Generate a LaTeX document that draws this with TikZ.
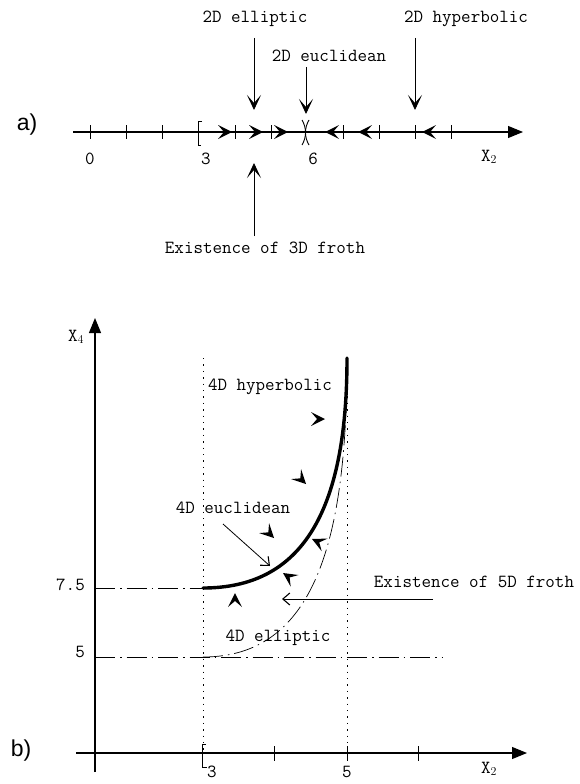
\documentclass[tikz,border=0pt]{standalone}
\usepackage{fontspec}
\newfontfamily\sansf{Liberation Sans}
\usetikzlibrary{arrows.meta}
\begin{document}
\begin{tikzpicture}[x=1pt,y=-1pt,
  every node/.style={inner sep=0pt,font=\ttfamily\fontsize{18.5}{21}\selectfont},
  partlabel/.style={font=\sansf\fontsize{23}{26}\selectfont},
  axisline/.style={line width=1.1pt,-{Triangle[length=15pt,width=12pt]}},
  tickline/.style={line width=0.8pt},
  bigpointer/.style={line width=0.9pt,-{Stealth[length=15pt,width=14pt,inset=8pt]}},
  thinpointer/.style={line width=0.8pt,-{Straight Barb[length=7pt,width=12pt,line width=1.1pt]}},
  dotline/.style={line width=0.9pt,dash pattern=on 1.4pt off 5pt},
  dashdotline/.style={line width=0.7pt,dash pattern=on 20pt off 5pt on 1.5pt off 5pt},
  chev/.pic={\fill (0,0) -- (-14,7) -- (-8,0) -- (-14,-7) -- cycle;}
]
\useasboundingbox (0,0) rectangle (579,784);

% ---------------- part a ----------------
\node[partlabel] (la) at (27,125) {a)};
\coordinate (aS) at (73,132);
\coordinate (aE) at (523,132);
\draw[axisline] (aS) -- (aE);
\foreach \x in {90,126,162,235,271,343,379,415,451}
  \draw[tickline] (\x,125) -- (\x,139);
% bracket at 3
\draw[line width=0.9pt] (202,121) -- (198,121) -- (198,145) -- (201,145);
% ")(" at 6
\draw[line width=0.9pt] (302,120) .. controls (306.7,128) and (306.7,137) .. (302,145);
\draw[line width=0.9pt] (309,120) .. controls (304.3,128) and (304.3,137) .. (309,145);
% chevrons on the line
\pic at (232,132) {chev};
\pic at (263,132) {chev};
\pic at (288,132) {chev};
\pic[rotate=180] at (325,132) {chev};
\pic[rotate=180] at (358,132) {chev};
\pic[rotate=180] at (422,132) {chev};
% numbers
\node (n0) at (90,159) {0};
\node (n3) at (206,159) {3};
\node (n6) at (313,159) {6};
\node (ax2) at (489,157) {X$_2$};
% labels and arrows
\node (ell2) at (255,19) {2D elliptic};
\node (euc2) at (329,56) {2D euclidean};
\node (hyp2) at (466,19) {2D hyperbolic};
\node (fr3) at (265,248) {Existence of 3D froth};
\coordinate (ellA) at (254,38);  \coordinate (ellB) at (254,110);
\coordinate (eucA) at (306,67);  \coordinate (eucB) at (306,114);
\coordinate (hypA) at (415,38);  \coordinate (hypB) at (415,110);
\coordinate (frA) at (254,236);  \coordinate (frB) at (254,163);
\draw[bigpointer] (ellA) -- (ellB);
\draw[bigpointer] (eucA) -- (eucB);
\draw[bigpointer] (hypA) -- (hypB);
\draw[bigpointer] (frA) -- (frB);

% ---------------- part b ----------------
\node[partlabel] (lb) at (21,751) {b)};
\coordinate (yS) at (95,772);
\coordinate (yE) at (95,318);
\coordinate (xS) at (76,753);
\coordinate (xE) at (527,753);
\draw[axisline] (yS) -- (yE);
\draw[axisline] (xS) -- (xE);
\foreach \x in {274,347,418}
  \draw[tickline] (\x,746) -- (\x,761);
\draw[line width=0.9pt] (206,744) -- (202,744) -- (202,767) -- (207,767);
\node (b3) at (212,772) {3};
\node (b5) at (347,772) {5};
\node (bx2) at (489,769) {X$_2$};
\node (bx4) at (76,337) {X$_4$};
\node[anchor=east] (y75) at (85,585) {7.5};
\node[anchor=east] (y5) at (85,652) {5};

% guide lines
\draw[dotline] (203,358) -- (203,753);
\draw[dotline] (347,358) -- (347,753);
\draw[dashdotline] (95,588) -- (203,588);
\draw[dashdotline] (95,657) -- (443,657);

% curves
\draw[dashdotline] (203,657) .. controls (315,657) and (347,540) .. (347,358);
\draw[line width=3.4pt,line cap=round] (203,588) .. controls (300,588) and (347,515) .. (347,358);

% chevrons
\pic at (325,419) {chev};
\pic[rotate=-45] at (306,484) {chev};
\pic[rotate=-45] at (274,538) {chev};
\pic[rotate=155] at (312,539) {chev};
\pic[rotate=146] at (283,573) {chev};
\pic[rotate=90] at (235,593) {chev};

% labels
\node (h4) at (270,387) {4D hyperbolic};
\node (e4) at (233,508) {4D euclidean};
\node (el4) at (278,638) {4D elliptic};
\node (fr5) at (474,582) {Existence of 5D froth};
\coordinate (eucP) at (223,524);
\coordinate (eucQ) at (270,566);
\draw[thinpointer] (eucP) -- (eucQ);
\coordinate (frP) at (433,599);
\coordinate (frQ) at (282,599);
\draw[thinpointer] (frP) -- (frQ);
\end{tikzpicture}
\end{document}
